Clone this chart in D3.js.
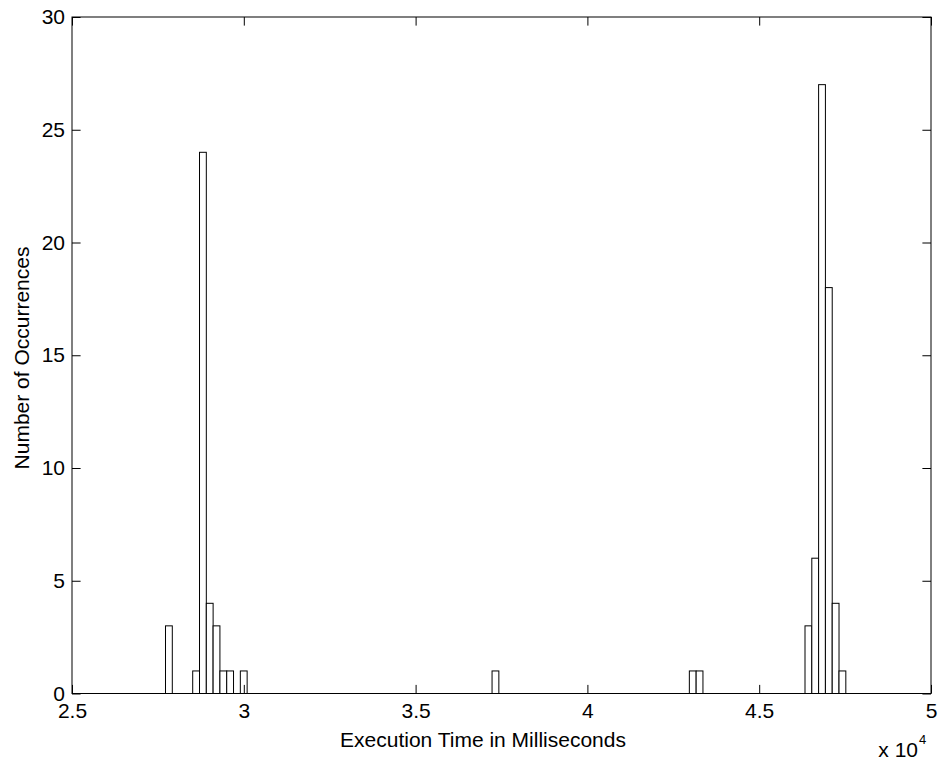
<!DOCTYPE html>
<html>
<head>
<meta charset="utf-8">
<script src="https://cdn.jsdelivr.net/npm/d3@7"></script>
<style>
  body { margin: 0; background: #fff; }
  svg { display: block; }
  text { font-family: "Liberation Sans", Arial, sans-serif; fill: #000; }
</style>
</head>
<body>
<svg id="chart"></svg>
<script>
// histogram bins (centre of each non-empty bin, in ms) and their counts
var binCenters = [27820, 28612, 28810, 29008, 29206, 29404, 29602, 29998,
                  37324, 43066, 43264,
                  46432, 46630, 46828, 47026, 47224, 47422];
var binCounts  = [3, 1, 24, 4, 3, 1, 1, 1,
                  1, 1, 1,
                  3, 6, 27, 18, 4, 1];
var binWidth = 198;

var xTicks = [25000, 30000, 35000, 40000, 45000, 50000];
var xTickLabels = ["2.5", "3", "3.5", "4", "4.5", "5"];
var yTicks = [0, 5, 10, 15, 20, 25, 30];

var WIDTH = 938, HEIGHT = 763;
var LEFT = 72, RIGHT = 931, TOP = 17, BOTTOM = 693.5;
var TICK = 8.6;
var FONT = "21px";

var svg = d3.select("#chart")
    .attr("width", WIDTH)
    .attr("height", HEIGHT);

var x = d3.scaleLinear().domain([25000, 50000]).range([LEFT, RIGHT]);
var y = d3.scaleLinear().domain([0, 30]).range([BOTTOM, TOP]);

//draw bars
svg.append("g")
    .attr("class", "bars")
    .selectAll("rect")
    .data(binCenters)
    .enter()
    .append("rect")
    .attr("x", function (d) { return x(d - binWidth / 2); })
    .attr("width", function (d) { return x(d + binWidth / 2) - x(d - binWidth / 2); })
    .attr("y", function (d, i) { return y(binCounts[i]); })
    .attr("height", function (d, i) { return y(0) - y(binCounts[i]); })
    .style("fill", "#fff")
    .style("stroke", "#000")
    .style("stroke-width", 1);

//bottom axis with labels, inward ticks
svg.append("g")
    .attr("transform", "translate(0," + BOTTOM + ")")
    .call(d3.axisBottom(x)
        .tickValues(xTicks)
        .tickFormat(function (d, i) { return xTickLabels[i]; })
        .tickSizeInner(-TICK)
        .tickSizeOuter(0)
        .tickPadding(10));
//top axis, ticks only
svg.append("g")
    .attr("transform", "translate(0," + TOP + ")")
    .call(d3.axisTop(x)
        .tickValues(xTicks)
        .tickFormat("")
        .tickSizeInner(-TICK)
        .tickSizeOuter(0));
//left axis with labels
svg.append("g")
    .attr("transform", "translate(" + LEFT + ",0)")
    .call(d3.axisLeft(y)
        .tickValues(yTicks)
        .tickSizeInner(-TICK)
        .tickSizeOuter(0)
        .tickPadding(7));
//right axis, ticks only
svg.append("g")
    .attr("transform", "translate(" + RIGHT + ",0)")
    .call(d3.axisRight(y)
        .tickValues(yTicks)
        .tickFormat("")
        .tickSizeInner(-TICK)
        .tickSizeOuter(0));

svg.selectAll(".domain").remove();
svg.selectAll(".tick line").style("stroke", "#000");
svg.selectAll(".tick text")
    .style("font-size", FONT)
    .style("font-family", "Liberation Sans, Arial, sans-serif")
    .style("fill", "#000");

//box around the plot
svg.append("rect")
    .attr("x", LEFT)
    .attr("y", TOP)
    .attr("width", RIGHT - LEFT)
    .attr("height", BOTTOM - TOP)
    .style("fill", "none")
    .style("stroke", "#000")
    .style("stroke-width", 1);

//axis labels
svg.append("text")
    .attr("x", 483)
    .attr("y", 747)
    .style("text-anchor", "middle")
    .style("font-size", FONT)
    .text("Execution Time in Milliseconds");

svg.append("text")
    .attr("transform", "translate(29,358) rotate(-90)")
    .style("text-anchor", "middle")
    .style("font-size", FONT)
    .text("Number of Occurrences");

//exponent label
svg.append("text")
    .attr("x", 918)
    .attr("y", 757)
    .style("text-anchor", "end")
    .style("font-size", FONT)
    .text("x 10");
svg.append("text")
    .attr("x", 919)
    .attr("y", 744)
    .style("font-size", "13px")
    .text("4");
</script>
</body>
</html>
